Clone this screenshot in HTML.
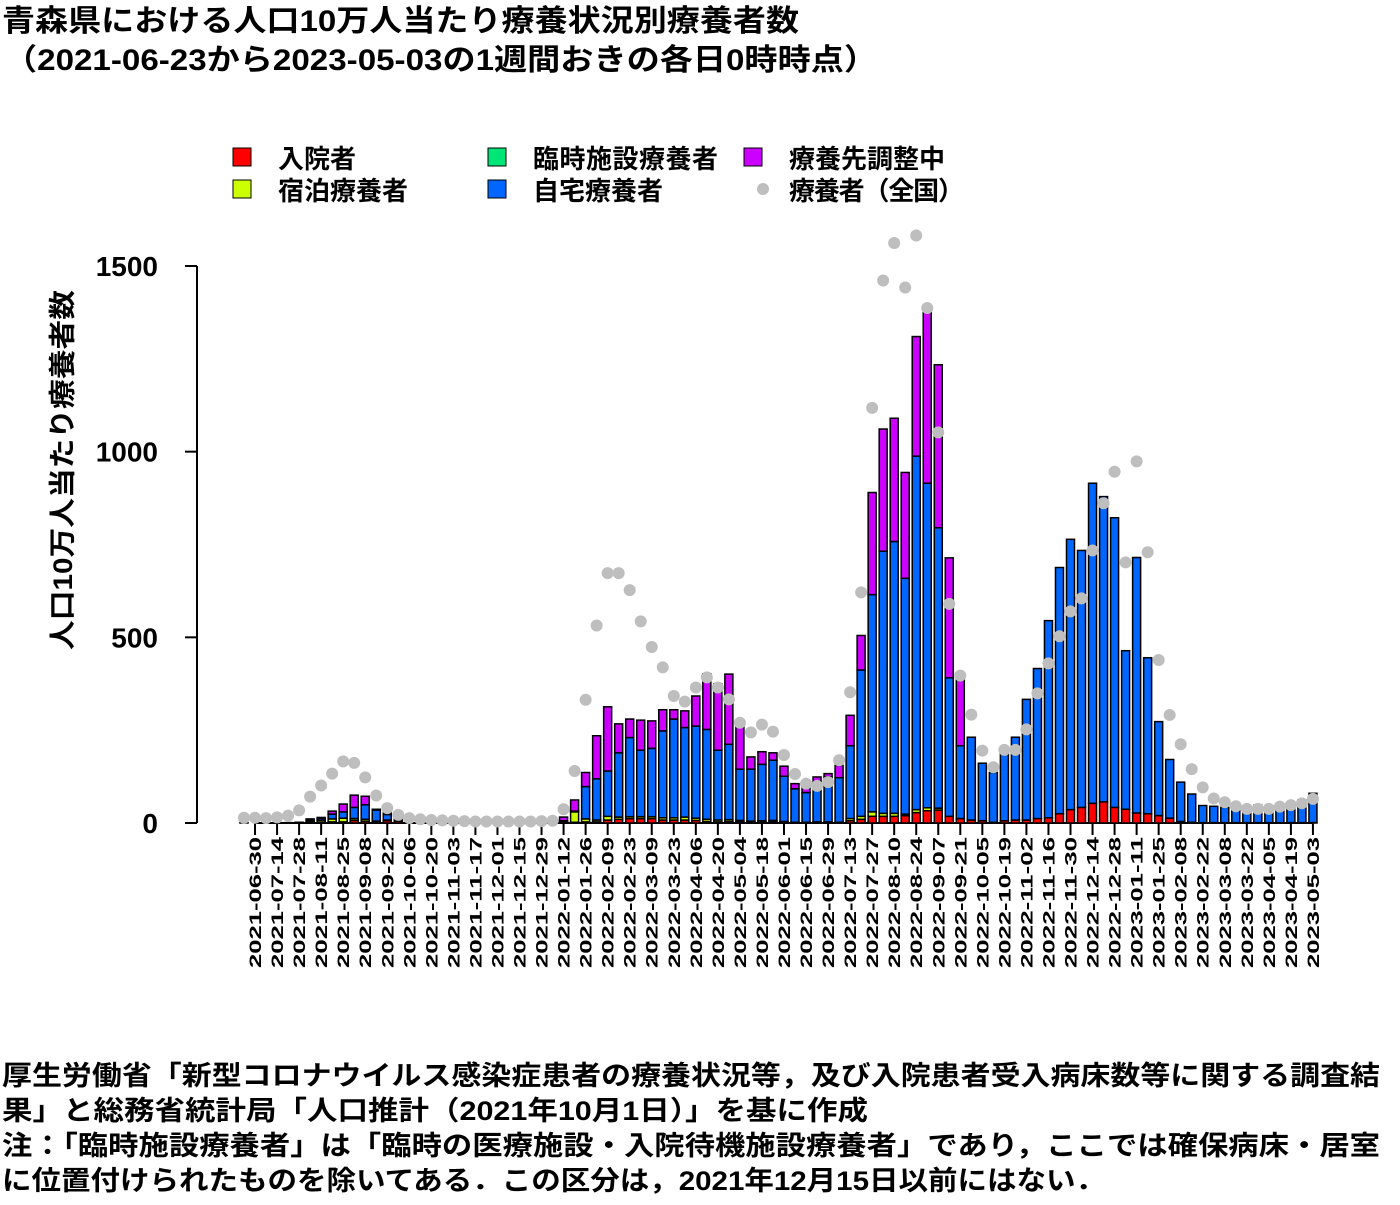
<!DOCTYPE html>
<html><head><meta charset="utf-8">
<style>
body{margin:0;background:#fff;width:1400px;height:1200px;overflow:hidden;font-family:"Liberation Sans","Noto Sans CJK JP",sans-serif;}
svg text{font-family:"Liberation Sans","Noto Sans CJK JP",sans-serif;font-weight:bold;}
</style></head><body>
<svg id="chart" width="1400" height="1200" xmlns="http://www.w3.org/2000/svg">
<text x="2" y="31" font-size="30" textLength="797" lengthAdjust="spacingAndGlyphs">青森県における人口10万人当たり療養状況別療養者数</text>
<text x="4" y="70" font-size="30" textLength="873" lengthAdjust="spacingAndGlyphs">（2021-06-23から2023-05-03の1週間おきの各日0時時点）</text>
<g font-size="26">
 <rect x="233" y="148" width="18" height="18" fill="#ff0000" stroke="#000"/>
 <text x="278" y="168">入院者</text>
 <rect x="233" y="180" width="18" height="18" fill="#ccff00" stroke="#000"/>
 <text x="278" y="200">宿泊療養者</text>
 <rect x="488" y="148" width="18" height="18" fill="#00e676" stroke="#000"/>
 <text x="533" y="168" textLength="185">臨時施設療養者</text>
 <rect x="488" y="180" width="18" height="18" fill="#0066ff" stroke="#000"/>
 <text x="533" y="200">自宅療養者</text>
 <rect x="744" y="148" width="18" height="18" fill="#cc00ff" stroke="#000"/>
 <text x="789" y="168">療養先調整中</text>
 <circle cx="763" cy="189" r="6" fill="#bebebe"/>
 <text x="789" y="200" textLength="175">療養者（全国）</text>
</g>
<text transform="translate(72,470) rotate(-90)" text-anchor="middle" font-size="27" textLength="360" lengthAdjust="spacingAndGlyphs">人口10万人当たり療養者数</text>
<g id="plot"></g>
<g font-size="27">
 <text x="2" y="1085" textLength="1378" lengthAdjust="spacingAndGlyphs">厚生労働省「新型コロナウイルス感染症患者の療養状況等，及び入院患者受入病床数等に関する調査結</text>
 <text x="2" y="1120" textLength="866" lengthAdjust="spacingAndGlyphs">果」と総務省統計局「人口推計（2021年10月1日）」を基に作成</text>
 <text x="2" y="1155" textLength="1378" lengthAdjust="spacingAndGlyphs">注：「臨時施設療養者」は「臨時の医療施設・入院待機施設療養者」であり，ここでは確保病床・居室</text>
 <text x="2" y="1190" textLength="1103" lengthAdjust="spacingAndGlyphs">に位置付けられたものを除いてある．この区分は，2021年12月15日以前にはない．</text>
</g>
</svg>
<script>
const hospital=[0,0,0,0,0,0,1,2,3,3,7,5,3,6,5,0,0,0,0,0,0,0,0,0,0,0,0,0,0,1,2,3,3,8,10,12,12,12,8,8,8,7,4,3,4,3,3,2,3,2,2,2,3,3,2,6,10,18,18,18,20,28,33,35,18,12,8,6,2,6,8,8,12,14,25,36,42,53,57,42,37,27,25,20,13,4,2,1,1,1,1,1,1,1,1,1,1,1];
const hotel=[0,0,0,0,0,0,3,5,8,10,5,5,2,2,1,0,0,0,0,0,0,0,0,0,0,0,0,0,0,2,28,8,5,10,6,5,5,5,6,6,8,6,6,5,5,4,2,4,4,2,0,0,0,0,0,6,8,12,8,8,4,8,8,5,0,0,0,0,0,0,0,0,0,0,0,0,0,0,0,0,0,0,0,0,0,0,0,0,0,0,0,0,0,0,0,0,0,0];
const tempFacility=new Array(98).fill(0);
const home=[1,0,0,1,1,2,4,5,13,17,30,39,30,15,4,0,0,0,0,0,0,0,0,0,0,0,0,0,1,3,2,87,111,122,173,213,179,184,234,266,241,248,242,188,203,138,140,152,162,122,90,80,107,121,120,196,394,585,706,732,635,952,874,755,373,196,223,155,134,180,223,325,404,531,663,728,692,862,822,780,427,688,420,253,158,106,76,46,44,41,34,32,47,41,44,50,61,79];
const adjusting=[0,0,0,0,0,0,3,3,8,21,33,23,2,4,1,0,0,0,0,0,0,0,0,0,0,0,0,0,1,10,30,38,116,173,78,50,81,74,57,25,45,81,150,179,189,123,33,34,20,27,14,13,14,9,33,82,93,275,329,332,285,322,462,439,323,180,0,0,0,0,0,0,0,0,0,0,0,0,0,0,0,0,0,0,0,0,0,0,0,0,0,0,0,0,0,0,0,0];
const national=[14,14,13,15,20,34,71,101,133,166,162,123,74,40,22,13,10,8,7,6,5,4,4,4,4,4,4,5,6,37,140,332,532,673,673,627,543,474,419,342,327,365,392,365,333,270,244,265,246,183,132,106,100,110,169,352,621,1118,1461,1562,1442,1582,1387,1052,590,397,292,195,150,197,197,252,349,430,503,570,605,734,861,946,702,974,729,439,291,212,145,96,66,56,45,38,38,38,44,48,53,65];
const yTicks=[0,500,1000,1500];
const start=new Date(Date.UTC(2021,5,23));
const dates=hospital.map((_,i)=>{const d=new Date(start.getTime()+i*7*86400000);return d.toISOString().slice(0,10);});
const NS="http://www.w3.org/2000/svg";
const plot=document.getElementById('plot');
const X0=244,DX=11.02,Y0=823,KY=557/1500,BW=8;
function xs(i){return X0+i*DX;}
function ys(v){return Y0-v*KY;}
function mk(tag,attrs){const e=document.createElementNS(NS,tag);for(const k in attrs)e.setAttribute(k,attrs[k]);plot.appendChild(e);return e;}
let ax=mk('line',{x1:197,y1:ys(0),x2:197,y2:ys(1500),stroke:'#000','stroke-width':2});


yTicks.forEach(t=>{
 let l=mk('line',{x1:185,x2:197,y1:ys(t),y2:ys(t),stroke:'#000','stroke-width':2});
 
 
 let tx=mk('text',{x:158,y:ys(t)+10,'text-anchor':'end','font-size':28});
 
 
 tx.textContent=t;
});
let xa=mk('line',{x1:xs(1),x2:xs(97),y1:Y0,y2:Y0,stroke:'#000','stroke-width':2});


for(let i=1;i<dates.length;i+=2){
 let l=mk('line',{x1:xs(i),x2:xs(i),y1:Y0,y2:Y0+12,stroke:'#000','stroke-width':2});
 
 
 let tx=mk('text',{transform:`translate(${xs(i)+6},${Y0+14}) rotate(-90)`,'text-anchor':'end','font-size':17,textLength:131,lengthAdjust:'spacingAndGlyphs'});
 
 
 tx.textContent=dates[i];
}
const series=[[hospital,'#ff0000','hospital'],[hotel,'#ccff00','hotel'],[tempFacility,'#00e676','temp-facility'],[home,'#0066ff','home'],[adjusting,'#cc00ff','adjusting']];
for(let i=0;i<hospital.length;i++){
 let cum=0;
 series.forEach(([arr,col,nm])=>{
  const v=arr[i];
  const r=mk('rect',{x:xs(i)-BW/2,y:ys(cum+v),width:BW,height:v*KY,fill:col,stroke:'#000','stroke-width':1.5});
  
  
  cum+=v;
 });
}
national.forEach((v,i)=>{
 const c=mk('circle',{cx:xs(i),cy:ys(v),r:6,fill:'#bebebe'});
 
 
});
</script>
</body></html>
